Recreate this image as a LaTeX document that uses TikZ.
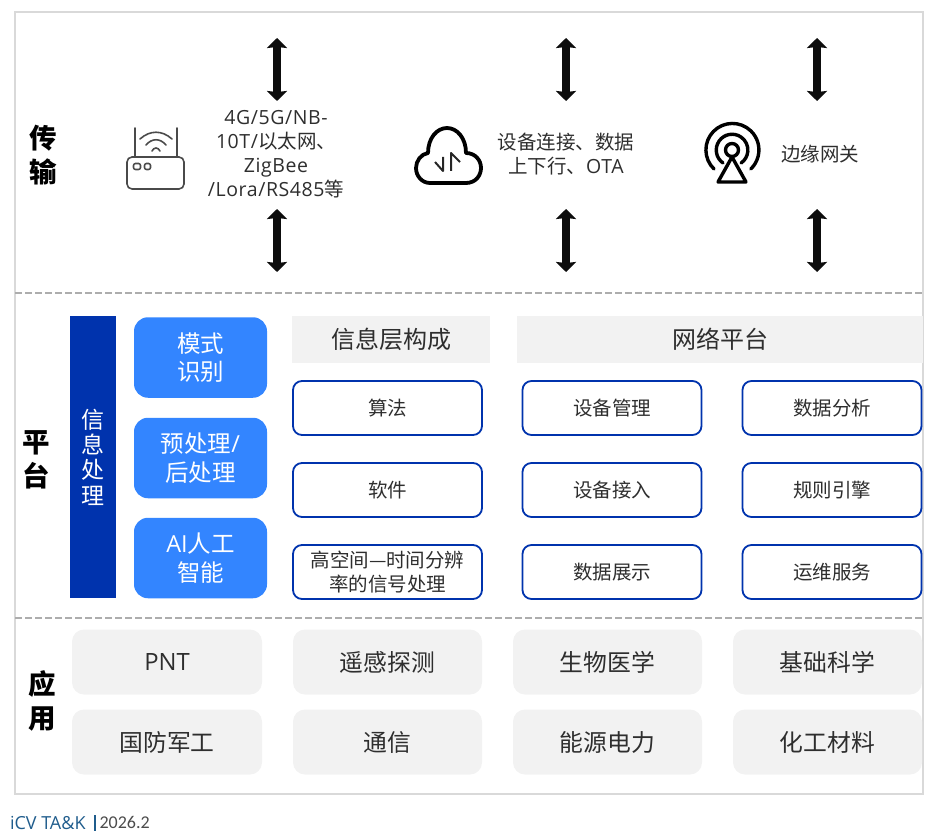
\documentclass[tikz,border=0pt]{standalone}
\usepackage{fontspec}
\setmainfont{Noto Sans CJK SC}
\newfontfamily\latfont{Open Sans}
\newfontfamily\latwide[LetterSpace=3]{Open Sans}
\newfontfamily\yearfont{Carlito}
\newcommand{\lat}[1]{{\latfont #1}}
\newcommand{\latw}[1]{{\latwide #1}}
\usetikzlibrary{arrows.meta, positioning}
\definecolor{deepblue}{HTML}{0033AD}
\definecolor{midblue}{HTML}{3385FF}
\definecolor{softgray}{HTML}{F2F2F2}
\definecolor{textgray}{HTML}{2E2E2E}
\definecolor{icongray}{HTML}{4A4A4A}
\definecolor{footblue}{HTML}{1F5C8C}

\begin{document}
\begin{tikzpicture} [
    x=1pt, y=1pt,
    every node/.style={inner sep=0pt, outer sep=0pt, text=textgray},
    section_label/.style={font=\fontsize{27.5}{34}\selectfont\bfseries, align=center, text=black},
    link_text/.style={font=\fontsize{19.5}{24}\selectfont, align=center},
    link_arrow/.style={draw=black!95, line width=7.5pt, {Stealth[width=20pt, length=10pt, inset=1pt]}-{Stealth[width=20pt, length=10pt, inset=1pt]}},
    proc_block/.style={rectangle, fill=midblue, rounded corners=14pt, minimum width=133pt, minimum height=80.5pt, align=center, text=white, font=\fontsize{23.5}{28.5}\selectfont},
    head_block/.style={rectangle, fill=softgray, minimum height=47pt, font=\fontsize{24}{28}\selectfont},
    info_block/.style={rectangle, draw=deepblue, line width=1.8pt, fill=white, rounded corners=9pt, minimum height=54pt, align=center, font=\fontsize{19.5}{24}\selectfont},
    app_block/.style={rectangle, fill=softgray, rounded corners=12pt, minimum height=65pt, font=\fontsize{23.8}{28}\selectfont},
    icon_line/.style={draw=icongray, line width=1.6pt, line cap=round, line join=round},
    icon_bold/.style={draw=black, line width=3.4pt, line cap=round, line join=round}
]
    \useasboundingbox (0,0) rectangle (933,-834);

    % Frame and dividers
    \draw[draw=black!15, line width=2pt] (14.5,-12) rectangle (923,-794);
    \coordinate (div_a_l) at (15,-293);
    \coordinate (div_a_r) at (922,-293);
    \coordinate (div_b_l) at (15,-618);
    \coordinate (div_b_r) at (922,-618);
    \draw[draw=black!32, line width=2pt, dash pattern=on 7pt off 3pt] (div_a_l) -- (div_a_r);
    \draw[draw=black!32, line width=2pt, dash pattern=on 7pt off 3pt] (div_b_l) -- (div_b_r);

    % Section labels
    \node[section_label] (label_trans) at (43,-155) {传\\输};
    \node[section_label] (label_plat) at (36,-460) {平\\台};
    \node[section_label] (label_app) at (42,-701) {应\\用};

    % Transport texts
    \node[link_text] (text_router) at (276,-154) {\latw{4G/5G/NB-}\\\latw{10T/}以太网、\\\latw{ZigBee}\\\latw{/Lora/RS485}等};
    \node[link_text] (text_cloud) at (566,-154) {设备连接、数据\\上下行、\latw{OTA}};
    \node[link_text] (text_gate) at (820,-154) {边缘网关};

    % Transport arrows
    \foreach \name/\xpos in {router/277, cloud/566, gate/817} {
        \coordinate (\name_a) at (\xpos,-38);
        \coordinate (\name_b) at (\xpos,-101);
        \coordinate (\name_c) at (\xpos,-209);
        \coordinate (\name_d) at (\xpos,-272);
        \path [link_arrow] (\name_a) -- (\name_b);
        \path [link_arrow] (\name_c) -- (\name_d);
    }

    % Router icon
    \draw[icon_line] (127,-162) arc (180:90:5) -- (179,-157) arc (90:0:5) -- (184,-184) arc (0:-90:5) -- (132,-189) arc (-90:-180:5) -- cycle;
    \draw[icon_line] (135,-128) -- (135,-157);
    \draw[icon_line] (177,-128) -- (177,-157);
    \draw[icon_line] (140,-139) .. controls (150,-130) and (162,-130) .. (172,-139);
    \draw[icon_line] (146,-145) .. controls (152,-138) and (160,-138) .. (166,-145);
    \draw[icon_line] (152,-151) .. controls (154,-147) and (158,-147) .. (160,-151);
    \draw[icon_line, rounded corners=2pt] (133.5,-163.5) rectangle (140.5,-169.5);
    \draw[icon_line, rounded corners=2pt] (144.5,-163.5) rectangle (150.5,-169.5);

    % Cloud icon
    \draw[icon_bold, line width=3.8pt] (430,-183) -- (466,-183) .. controls (476,-183) and (481,-175) .. (481,-168) .. controls (481,-160) and (475,-153) .. (466,-153) .. controls (466,-138) and (457,-128) .. (447,-128) .. controls (437,-128) and (428,-138) .. (428,-153) .. controls (421,-154) and (416,-161) .. (416,-168) .. controls (416,-176) and (422,-183) .. (430,-183) -- cycle;
    \draw[draw=black!85, line width=2pt, line join=round] (443,-157) -- (443,-171) -- (435,-162);
    \draw[draw=black!85, line width=2pt, line join=round] (451,-171) -- (451,-153) -- (460,-162);

    % Tower icon
    \draw[icon_bold] (732,-150) circle (6.5);
    \draw[icon_bold] (723,-163) arc (235:-55:15.8);
    \draw[icon_bold] (714,-169) arc (226:-46:26.5);
    \draw[icon_bold] (732,-157) -- (746,-182) -- (718,-182) -- cycle;

    % Platform, left part
    \node[rectangle, fill=deepblue, minimum width=46pt, minimum height=282pt, align=center, text=white, font=\fontsize{23}{25.3}\selectfont] (info_bar) at (93,-457) {信\\息\\处\\理};
    \node[proc_block] (pattern) at (200.5,-357.5) {模式\\识别};
    \node[proc_block, below=20pt of pattern] (prepost) {预处理\lat{/}\\后处理};
    \node[proc_block, below=19.5pt of prepost] (ai) {\lat{AI}人工\\智能};

    % Platform, headers
    \node[head_block, minimum width=198pt] (head_info) at (391,-339.5) {信息层构成};
    \node[head_block, minimum width=406pt] (head_net) at (720,-339.5) {网络平台};

    % Platform, info column
    \node[info_block, minimum width=189pt] (algo) at (387.5,-408) {算法};
    \node[info_block, minimum width=189pt, below=28pt of algo] (soft) {软件};
    \node[info_block, minimum width=189pt, below=28pt of soft] (signal) {高空间—时间分辨\\率的信号处理};

    % Platform, network columns
    \node[info_block, minimum width=179pt] (dev_manage) at (612,-408) {设备管理};
    \node[info_block, minimum width=179pt, below=28pt of dev_manage] (dev_access) {设备接入};
    \node[info_block, minimum width=179pt, below=28pt of dev_access] (data_show) {数据展示};
    \node[info_block, minimum width=179pt] (data_analysis) at (832,-408) {数据分析};
    \node[info_block, minimum width=179pt, below=28pt of data_analysis] (rule_engine) {规则引擎};
    \node[info_block, minimum width=179pt, below=28pt of rule_engine] (ops_service) {运维服务};

    % Applications
    \node[app_block, minimum width=190pt] (pnt) at (167,-662) {\lat{PNT}};
    \node[app_block, minimum width=189pt] (remote) at (387.5,-662) {遥感探测};
    \node[app_block, minimum width=189pt] (bio) at (607.5,-662) {生物医学};
    \node[app_block, minimum width=189pt] (basic) at (827.5,-662) {基础科学};
    \node[app_block, minimum width=190pt, below=15pt of pnt] (defense) {国防军工};
    \node[app_block, minimum width=189pt, below=15pt of remote] (comm) {通信};
    \node[app_block, minimum width=189pt, below=15pt of bio] (energy) {能源电力};
    \node[app_block, minimum width=189pt, below=15pt of basic] (chem) {化工材料};

    % Footer
    \node[anchor=west, text=footblue, font=\fontsize{18}{20}\latfont] (foot_name) at (10,-823) {iCV TA\&K};
    \coordinate (foot_bar_a) at (95,-815);
    \coordinate (foot_bar_b) at (95,-831);
    \draw[draw=footblue, line width=1.2pt] (foot_bar_a) -- (foot_bar_b);
    \node[anchor=west, text=black!70, font=\fontsize{18}{20}\yearfont] (foot_year) at (99.5,-822.5) {2026.2};
\end{tikzpicture}
\end{document}
